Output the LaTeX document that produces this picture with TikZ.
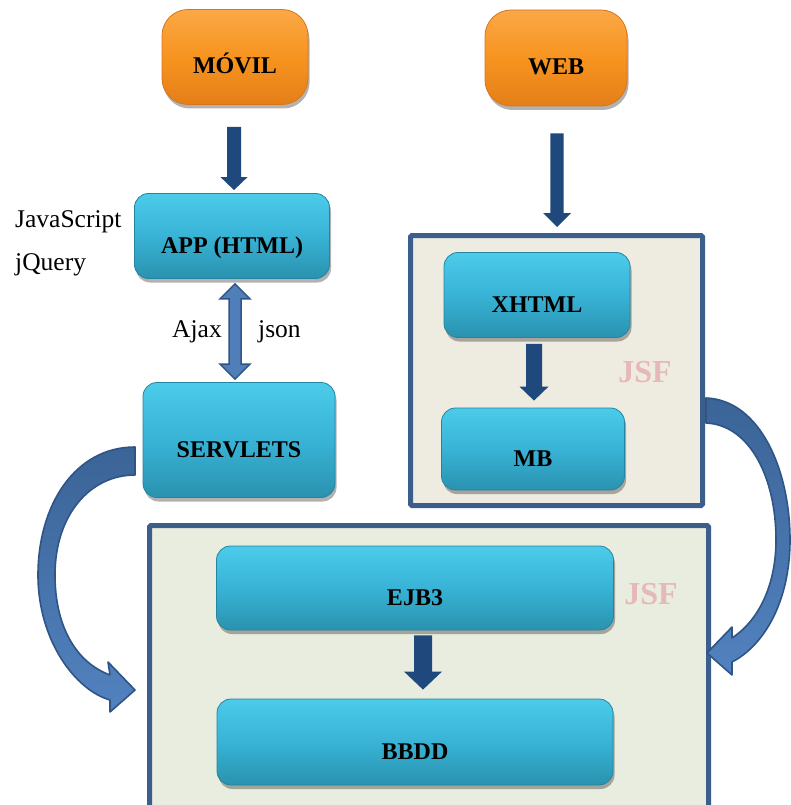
\documentclass[tikz,border=0pt]{standalone}
\usepackage{fontspec}
\setmainfont{Liberation Serif}
\usetikzlibrary{calc,shadows}
\definecolor{navy}{HTML}{1F497D}
\definecolor{framec}{HTML}{3B5E8C}
\definecolor{beigeA}{HTML}{EEEBE1}
\definecolor{greenA}{HTML}{E9EDDF}
\definecolor{jsfc}{HTML}{E6B8B8}
\definecolor{cyTop}{HTML}{4CCBEA}
\definecolor{cyMid}{HTML}{38B3D6}
\definecolor{cyBot}{HTML}{2A92AF}
\definecolor{cyEdge}{HTML}{2385A1}
\definecolor{orTop}{HTML}{FBA847}
\definecolor{orMid}{HTML}{F7941F}
\definecolor{orBot}{HTML}{E47F19}
\definecolor{orEdge}{HTML}{D8761A}
\definecolor{arLight}{HTML}{5282BF}
\definecolor{arDark}{HTML}{3B6497}
\definecolor{arEdge}{HTML}{2F5586}
\newcommand{\lo}[1]{\raisebox{-9pt}[\height][\depth]{#1}}
\newcommand{\blockdown}[5]{%
  \fill[navy] ($(#1)+(-#3,0)$) -- ($(#2)+(-#3,-#5)$) -- ($(#2)+(-#4,-#5)$) -- (#2)
    -- ($(#2)+(#4,-#5)$) -- ($(#2)+(#3,-#5)$) -- ($(#1)+(#3,0)$) -- cycle;}
\begin{document}
\begin{tikzpicture}[x=1pt,y=-1pt,
  boxtext/.style={font=\bfseries\fontsize{24}{28}\selectfont, text=black, text height=16pt, text depth=0pt},
  cyanbox/.style={boxtext, rounded corners=14pt, draw=cyEdge, line width=0.8pt,
    top color=cyTop, bottom color=cyBot, middle color=cyMid,
    drop shadow={shadow xshift=1.5pt, shadow yshift=-4pt, opacity=0.3, fill=black}},
  orangebox/.style={boxtext, rounded corners=26pt, draw=orEdge, line width=0.8pt,
    top color=orTop, bottom color=orBot, middle color=orMid,
    drop shadow={shadow xshift=1.5pt, shadow yshift=-4pt, opacity=0.3, fill=black}},
  frame/.style={draw=framec, line width=5pt, rounded corners=1.5pt},
  plain/.style={font=\fontsize{25.5}{30}\selectfont, text=black, inner sep=0pt, anchor=base west},
  jsf/.style={font=\bfseries\fontsize{32}{36}\selectfont, text=jsfc, inner sep=0pt},
  carrow/.style={draw=arEdge, line width=1.6pt, top color=arDark, bottom color=arLight, line join=round},
  dbl/.style={draw=arEdge, line width=1.5pt, fill=arLight!85!arDark, line join=miter}
]
\useasboundingbox (0,0) rectangle (791,805);
\fill[white] (0,0) rectangle (791,805);

% frames
\node[frame, fill=beigeA, anchor=north west, minimum width=292pt, minimum height=270pt, inner sep=0pt] (jsfbox) at (408,233) {};
\node[frame, fill=greenA, anchor=north west, minimum width=559pt, minimum height=320pt, inner sep=0pt] (ejbbox) at (147,523) {};

% nodes
\node[orangebox, minimum width=146pt, minimum height=95pt] (movil) at (235,57) {\lo{MÓVIL}};
\node[orangebox, minimum width=142pt, minimum height=96pt] (web) at (556,58) {\lo{WEB}};
\node[cyanbox, minimum width=195pt, minimum height=85pt] (app) at (232,236) {\lo{APP (HTML)}};
\node[cyanbox, minimum width=192pt, minimum height=115pt] (servlets) at (239,440) {\lo{SERVLETS}};
\node[cyanbox, minimum width=186pt, minimum height=85pt] (xhtml) at (537,295) {\lo{XHTML}};
\node[cyanbox, minimum width=183pt, minimum height=82pt] (mb) at (533,449) {\lo{MB}};
\node[cyanbox, minimum width=397pt, minimum height=84pt] (ejb) at (415,588) {\lo{EJB3}};
\node[cyanbox, minimum width=396pt, minimum height=86pt] (bbdd) at (415,742) {\lo{BBDD}};

% labels
\node[plain] (js) at (15,227) {JavaScript};
\node[plain] (jq) at (15,270) {jQuery};
\node[plain] (ajax) at (172,337) {Ajax};
\node[plain] (json) at (258,337) {json};
\node[jsf] (jsf1) at (645,372) {JSF};
\node[jsf] (jsf2) at (651,594) {JSF};

% straight block arrows
\coordinate (a1s) at ($(movil.south)+(-1,22)$);
\coordinate (a1e) at (a1s |- app.north);
\blockdown{a1s}{$(a1e)+(0,-3)$}{7}{13.5}{13}
\coordinate (a2s) at ($(web.south)+(1,27)$);
\coordinate (a2e) at (a2s |- jsfbox.north);
\blockdown{a2s}{$(a2e)+(0,-6)$}{6.7}{14}{14}
\coordinate (a3s) at ($(xhtml.south)+(-3,6)$);
\coordinate (a3e) at (a3s |- mb.north);
\blockdown{a3s}{$(a3e)+(0,-7)$}{8}{14.5}{14}
\coordinate (a4s) at ($(ejb.south)+(8,5)$);
\coordinate (a4e) at (a4s |- bbdd.north);
\blockdown{a4s}{$(a4e)+(0,-9)$}{9}{19}{18}

% double arrow Ajax/json
\coordinate (dtop) at ($(app.south)+(3,5)$);
\coordinate (dbot) at ($(dtop |- servlets.north)+(0,-3)$);
\draw[dbl] (dtop) -- ++(15,15) -- ++(-9,0) -- ($(dbot)+(6,-15)$) -- ++(9,0) -- (dbot)
  -- ++(-15,-15) -- ++(9,0) -- ($(dtop)+(-6,15)$) -- ++(-9,0) -- cycle;

% curved arrows
\draw[carrow] (135,447) .. controls (75,447) and (38,505) .. (38,575)
  .. controls (38,640) and (75,690) .. (110,700) -- (110,712) -- (135,690) -- (108,662) -- (110,675)
  .. controls (75,662) and (55,625) .. (55,575)
  .. controls (55,515) and (90,475) .. (135,475) -- cycle;
\draw[carrow] (706,398) .. controls (760,400) and (790,470) .. (790,540)
  .. controls (790,600) and (765,645) .. (732,662) -- (732,675) -- (707,653) -- (732,627) -- (732,638)
  .. controls (762,618) and (776,580) .. (776,540)
  .. controls (776,478) and (750,425) .. (706,423) -- cycle;
\end{tikzpicture}
\end{document}
